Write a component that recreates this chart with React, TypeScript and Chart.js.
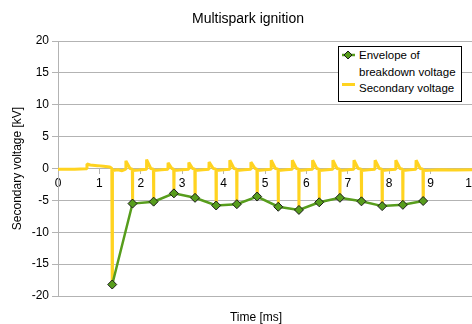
import React, { useEffect, useRef } from "react";
import { Chart, registerables } from "chart.js";

Chart.register(...registerables);

const FONT = '"Liberation Sans", Arial, sans-serif';

const chartTitle = "Multispark ignition";
const xTitle = "Time [ms]";
const yTitle = "Secondary voltage [kV]";
const envelopeLabel = ["Envelope of", "breakdown voltage"];
const secondaryLabel = "Secondary voltage";

// Envelope of breakdown voltage (spark instants)
const sparkTimes = [1.31, 1.8, 2.31, 2.8, 3.31, 3.82, 4.32, 4.81, 5.32, 5.82, 6.31, 6.81, 7.33, 7.83, 8.33, 8.82];
const breakdownKV = [-18.2, -5.5, -5.2, -3.9, -4.6, -5.8, -5.6, -4.4, -6.0, -6.5, -5.3, -4.6, -5.15, -5.9, -5.7, -5.1];

// Secondary voltage trace
const secondaryTimes = [
  0.0, 0.4, 0.68, 0.7, 0.78, 0.95, 1.1, 1.25, 1.3, 1.31, 1.315, 1.45, 1.55, 1.635,
  1.64, 1.74, 1.795, 1.8, 1.805, 1.95, 2.135,
  2.14, 2.24, 2.305, 2.31, 2.315, 2.5, 2.655,
  2.66, 2.75, 2.795, 2.8, 2.805, 3.0, 3.155,
  3.16, 3.25, 3.305, 3.31, 3.315, 3.5, 3.645,
  3.65, 3.75, 3.815, 3.82, 3.825, 4.0, 4.145,
  4.15, 4.25, 4.315, 4.32, 4.325, 4.5, 4.655,
  4.66, 4.76, 4.805, 4.81, 4.815, 5.0, 5.145,
  5.15, 5.25, 5.315, 5.32, 5.325, 5.5, 5.655,
  5.66, 5.76, 5.815, 5.82, 5.825, 6.0, 6.145,
  6.15, 6.25, 6.305, 6.31, 6.315, 6.5, 6.635,
  6.64, 6.74, 6.805, 6.81, 6.815, 7.0, 7.145,
  7.15, 7.25, 7.325, 7.33, 7.335, 7.5, 7.655,
  7.66, 7.76, 7.825, 7.83, 7.835, 8.0, 8.155,
  8.16, 8.26, 8.325, 8.33, 8.335, 8.5, 8.645,
  8.65, 8.75, 8.815, 8.82, 8.825, 9.2, 9.6, 10.0,
];
const secondaryKV = [
  -0.1, -0.1, -0.05, 0.7, 0.55, 0.45, 0.35, 0.25, 0.0, -18.2, -0.3, -0.2, -0.35, -0.1,
  1.2, 0.0, -0.1, -5.5, -0.3, -0.25, -0.1,
  1.4, 0.0, -0.1, -5.2, -0.3, -0.2, -0.1,
  0.9, 0.0, -0.1, -3.9, -0.3, -0.2, -0.1,
  0.95, 0.0, -0.1, -4.6, -0.3, -0.2, -0.1,
  1.0, 0.0, -0.1, -5.8, -0.3, -0.2, -0.1,
  1.3, 0.0, -0.1, -5.6, -0.3, -0.2, -0.1,
  1.0, 0.0, -0.1, -4.4, -0.3, -0.2, -0.1,
  1.3, 0.0, -0.1, -6.0, -0.3, -0.2, -0.1,
  1.3, 0.0, -0.1, -6.5, -0.3, -0.2, -0.1,
  1.3, 0.0, -0.1, -5.3, -0.3, -0.2, -0.1,
  1.3, 0.0, -0.1, -4.6, -0.3, -0.2, -0.1,
  1.3, 0.0, -0.1, -5.15, -0.3, -0.2, -0.1,
  1.3, 0.0, -0.1, -5.9, -0.3, -0.2, -0.1,
  1.3, 0.0, -0.1, -5.7, -0.3, -0.2, -0.1,
  1.3, 0.0, -0.1, -5.1, -0.3, -0.2, -0.25, -0.2,
];

const GREEN = "#579D1C";
const YELLOW = "#FFD320";
const GRID = "#b3b3b3";

const textPlugin = {
  id: "fixedTexts",
  afterDraw(chart: any) {
    const ctx = chart.ctx;
    ctx.save();
    ctx.fillStyle = "#000";
    ctx.textAlign = "center";
    ctx.textBaseline = "alphabetic";
    ctx.font = `14px ${FONT}`;
    ctx.fillText(chartTitle, 248, 23);
    ctx.font = `12px ${FONT}`;
    ctx.fillText(xTitle, 256, 321);
    ctx.restore();
  },
};

export default function App() {
  const ref = useRef<HTMLCanvasElement | null>(null);

  useEffect(() => {
    if (!ref.current) return;
    Chart.defaults.font.family = FONT;
    const chart = new Chart(ref.current, {
      type: "line",
      data: {
        datasets: [
          {
            label: envelopeLabel.join(" "),
            data: sparkTimes.map((t, i) => ({ x: t, y: breakdownKV[i] })),
            borderColor: GREEN,
            backgroundColor: GREEN,
            borderWidth: 2.5,
            pointStyle: "rectRot",
            pointRadius: 4.5,
            pointBackgroundColor: GREEN,
            pointBorderColor: "#1a1a1a",
            pointBorderWidth: 1,
            tension: 0,
          },
          {
            label: secondaryLabel,
            data: secondaryTimes.map((t, i) => ({ x: t, y: secondaryKV[i] })),
            borderColor: YELLOW,
            backgroundColor: YELLOW,
            borderWidth: 3,
            borderJoinStyle: "bevel",
            pointRadius: 0,
            tension: 0,
          },
        ],
      },
      options: {
        animation: false,
        responsive: false,
        events: [],
        layout: { padding: { left: 0, right: 24, top: 41, bottom: 28 } },
        plugins: {
          legend: { display: false },
          title: { display: false },
          tooltip: { enabled: false },
        },
        scales: {
          x: {
            type: "linear",
            min: 0,
            max: 10,
            position: { y: 0 } as any,
            ticks: {
              stepSize: 1,
              color: "#000",
              font: { size: 12 },
              padding: 3,
              maxRotation: 0,
              autoSkip: false,
            },
            grid: {
              display: true,
              drawOnChartArea: false,
              drawTicks: true,
              tickLength: 5,
              color: GRID,
            },
            border: { display: true, color: GRID },
          },
          y: {
            type: "linear",
            min: -20,
            max: 20,
            ticks: { stepSize: 5, color: "#000", font: { size: 12 }, padding: 3 },
            grid: { color: GRID, tickLength: 6 },
            border: { color: GRID },
            title: {
              display: true,
              text: yTitle,
              color: "#000",
              font: { size: 12 },
              padding: { top: 10, bottom: 0 },
            },
            afterFit: (s: any) => {
              s.width = 58;
            },
          },
        },
      },
      plugins: [textPlugin],
    });
    return () => chart.destroy();
  }, []);

  return (
    <div
      style={{
        position: "fixed",
        left: 0,
        top: 0,
        width: 472,
        height: 324,
        overflow: "hidden",
        background: "#fff",
      }}
    >
      <canvas ref={ref} width={496} height={324} style={{ display: "block", position: "absolute", left: 0, top: 0 }} />
      <div
        style={{
          position: "absolute",
          left: 338,
          top: 46,
          width: 124,
          height: 56,
          boxSizing: "border-box",
          border: "1px solid #000",
          background: "#fff",
          fontFamily: FONT,
          fontSize: "11.5px",
          color: "#000",
        }}
      >
        <svg width={122} height={54} style={{ position: "absolute", left: 0, top: 0 }}>
          <line x1={3} y1={8} x2={16} y2={8} stroke={GREEN} strokeWidth={2.5} />
          <polygon points="9,4 13,8 9,12 5,8" fill={GREEN} stroke="#1a1a1a" strokeWidth={1} />
          <line x1={3} y1={37.5} x2={16} y2={37.5} stroke={YELLOW} strokeWidth={3} />
        </svg>
        <div style={{ position: "absolute", left: 20, top: 1, lineHeight: "14px", whiteSpace: "nowrap" }}>{envelopeLabel[0]}</div>
        <div style={{ position: "absolute", left: 20, top: 18, lineHeight: "14px", whiteSpace: "nowrap" }}>{envelopeLabel[1]}</div>
        <div style={{ position: "absolute", left: 20, top: 34, lineHeight: "14px", whiteSpace: "nowrap" }}>{secondaryLabel}</div>
      </div>
    </div>
  );
}
